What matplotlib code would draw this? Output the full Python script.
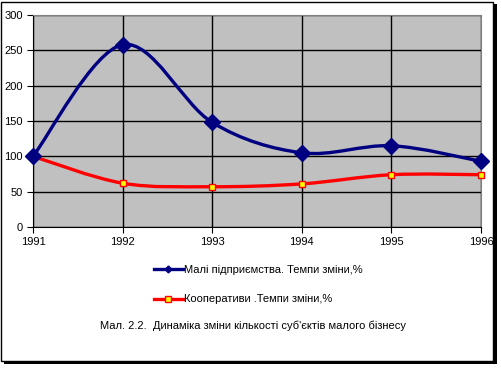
import numpy as np
import matplotlib
matplotlib.use("Agg")
import matplotlib.pyplot as plt
from matplotlib.patches import Rectangle
from matplotlib.path import Path
from matplotlib.patches import PathPatch

plt.rcParams['font.family'] = ['Liberation Sans', 'DejaVu Sans']

years = [1991, 1992, 1993, 1994, 1995, 1996]
small_firms = [100, 258, 148, 105, 115, 93]
coops = [100, 62, 57, 61, 74, 74]
label_small = "Малі підприємства. Темпи зміни,%"
label_coop = "Кооперативи .Темпи зміни,%"
caption = "Мал. 2.2.  Динаміка зміни кількості суб'єктів малого бізнесу"


def smooth_path(x, y):
    # excel-like smoothed line: cubic bezier, catmull-rom control points
    x = np.asarray(x, float); y = np.asarray(y, float)
    verts = [(x[0], y[0])]
    codes = [Path.MOVETO]
    n = len(x)
    for i in range(n - 1):
        p0 = (x[max(i - 1, 0)], y[max(i - 1, 0)])
        p1 = (x[i], y[i])
        p2 = (x[i + 1], y[i + 1])
        p3 = (x[min(i + 2, n - 1)], y[min(i + 2, n - 1)])
        c1 = (p1[0] + (p2[0] - p0[0]) / 6, p1[1] + (p2[1] - p0[1]) / 6)
        c2 = (p2[0] - (p3[0] - p1[0]) / 6, p2[1] - (p3[1] - p1[1]) / 6)
        verts += [c1, c2, p2]
        codes += [Path.CURVE4] * 3
    return Path(verts, codes)


W, H = 502, 368
fig = plt.figure(figsize=(W / 100, H / 100), dpi=100)
fig.patch.set_facecolor('white')

# frame with shadow (pixel coords from top-left)
def px_rect(x0, y0, x1, y1, **kw):
    return Rectangle((x0 / W, 1 - y1 / H), (x1 - x0) / W, (y1 - y0) / H,
                     transform=fig.transFigure, **kw)

fig.patches.append(px_rect(4, 4, 497, 364, facecolor='black', edgecolor='none', zorder=-3))
fig.patches.append(px_rect(1.5, 1.5, 493.5, 360.5, facecolor='white', edgecolor='black',
                           lw=1, zorder=-2))

ax = fig.add_axes([33 / W, 1 - 227 / H, 448 / W, 212 / H])
ax.set_facecolor('#c0c0c0')
ax.set_xlim(1991, 1996)
ax.set_ylim(0, 300)
ax.set_xticks(years)
ax.set_yticks(range(0, 301, 50))
ax.grid(True, color='black', lw=1)
ax.set_axisbelow(True)
for s in ['top', 'right']:
    ax.spines[s].set_color('#808080')
for s in ['left', 'bottom']:
    ax.spines[s].set_color('black')
ax.tick_params(labelsize=8, length=4, color='black', direction='out')

ax.add_patch(PathPatch(smooth_path(years, coops), fill=False, edgecolor='#ff0000', lw=2.4, zorder=3))
ax.add_patch(PathPatch(smooth_path(years, small_firms), fill=False, edgecolor='#000080', lw=2.4, zorder=4))
ax.plot(years, coops, ls='none', marker='s', ms=5, mfc='#ffff00', mec='#ff0000', mew=1,
        zorder=5, clip_on=False)
ax.plot(years, small_firms, ls='none', marker='D', ms=8, mfc='#000080', mec='#000080',
        zorder=6, clip_on=False)

# legend
h1, = ax.plot([], [], color='#000080', lw=2.4, marker='D', ms=3.5, mfc='#000080', mec='#000080')
h2, = ax.plot([], [], color='#ff0000', lw=2.4, marker='s', ms=5, mfc='#ffff00', mec='#ff0000')
fig.legend([h1, h2], [label_small, label_coop], loc='upper left',
           bbox_to_anchor=(154 / W, 1 - 265 / H), frameon=False, fontsize=8,
           borderpad=0, borderaxespad=0,
           handlelength=2.6, handletextpad=0.1, labelspacing=1.75)

fig.text(100 / W, 1 - 326 / H, caption, fontsize=8, va='center', ha='left')

fig.savefig('out.png', dpi=100)
